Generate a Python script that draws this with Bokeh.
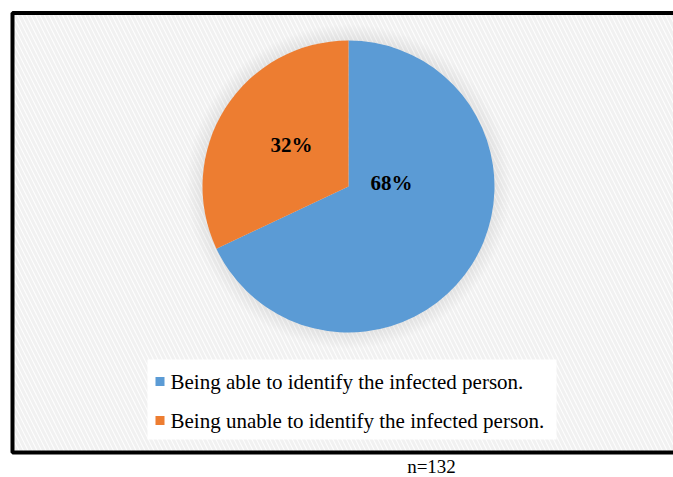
from math import pi

from bokeh.core.properties import value
from bokeh.embed import file_html
from bokeh.models import Range1d
from bokeh.plotting import figure
from bokeh.resources import INLINE

# --- data ---------------------------------------------------------------
categories = [
    "Being able to identify the infected person.",
    "Being unable to identify the infected person.",
]
shares = [68, 32]
colors = ["#5B9BD5", "#ED7D31"]
sample_note = "n=132"

# --- layout (pixel coordinates, y measured from the top) ----------------
W, H = 673, 477
cx, cy, radius = 348, 186, 146
label_pos = [(391, 182), (291, 144)]
legend_box = (147, 359, 556, 439)
legend_rows = [381, 420]
SERIF = value("Liberation Serif")


def Y(py):
    return H - py


p = figure(
    width=W, height=H, output_backend="svg", toolbar_location=None,
    x_range=Range1d(0, W), y_range=Range1d(0, H),
    min_border=0, outline_line_color=None,
)
p.axis.visible = False
p.grid.visible = False
p.background_fill_color = "white"
p.border_fill_color = "white"

# hatched chart area
p.quad(left=[12], right=[700], top=[Y(13)], bottom=[Y(452)],
       fill_color="#fdfdfd", line_color=None,
       hatch_pattern="left_diagonal_line", hatch_color="#f1f1f1",
       hatch_scale=9, hatch_weight=3)

# soft shadow around the pie
for k in range(16, 0, -1):
    p.circle(x=[cx], y=[Y(cy)], radius=radius + k, radius_units="screen",
             fill_color="#909090", fill_alpha=0.012, line_color=None)

# pie slices, clockwise from 12 o'clock
total = float(sum(shares))
start = pi / 2
starts, ends = [], []
for s in shares:
    end = start - 2 * pi * s / total
    starts.append(start)
    ends.append(end)
    start = end
p.wedge(x=[cx] * len(shares), y=[Y(cy)] * len(shares), radius=radius,
        radius_units="screen", start_angle=starts, end_angle=ends,
        direction="clock", fill_color=colors, line_color=None)

# slice labels
p.text(x=[lx for lx, _ in label_pos], y=[Y(ly) for _, ly in label_pos],
       text=[f"{s}%" for s in shares], text_font=SERIF,
       text_font_style="bold", text_font_size="21px",
       text_align="center", text_baseline="middle", text_color="black")

# legend
lx0, ly0, lx1, ly1 = legend_box
p.quad(left=[lx0], right=[lx1], top=[Y(ly0)], bottom=[Y(ly1)],
       fill_color="white", line_color=None)
p.rect(x=[159.5] * 2, y=[Y(r) for r in legend_rows], width=9, height=9,
       width_units="screen", height_units="screen",
       fill_color=colors, line_color=None)
p.text(x=[170] * 2, y=[Y(r) for r in legend_rows], text=categories,
       text_font=SERIF, text_font_size="21px", text_align="left",
       text_baseline="middle", text_color="black")

# chart frame
p.quad(left=[12], right=[700], top=[Y(12.5)], bottom=[Y(452)],
       fill_color=None, line_color="black", line_width=4)

# sample size note
p.text(x=[431], y=[Y(466)], text=[sample_note], text_font=SERIF,
       text_font_size="19px", text_align="center", text_baseline="middle",
       text_color="black")

open("out.html", "w").write(file_html(p, INLINE))
